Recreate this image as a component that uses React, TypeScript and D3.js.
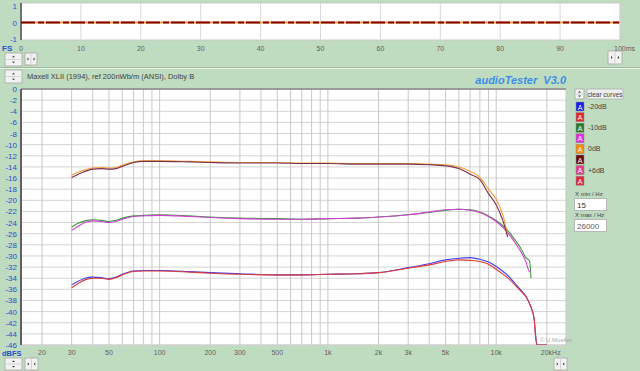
import React from 'react';
import * as d3 from 'd3';

// ---- data ----
const stripTimes = [0, 100];
const stripValues = [0, 0];
const stripTicks = [0, 10, 20, 30, 40, 50, 60, 70, 80, 90, 100];

const freqTop = [30, 33, 36, 40, 45, 50, 55, 60, 70, 80, 100, 150, 200, 300, 500, 700, 1000, 1500, 2000, 3000, 4000, 5000, 6000, 7000, 8000, 9000, 10000, 11000, 11700];
const maroonDb = [-15.9, -15.3, -14.8, -14.4, -14.3, -14.4, -14.3, -13.9, -13.2, -13.0, -13.0, -13.1, -13.2, -13.3, -13.3, -13.4, -13.4, -13.5, -13.5, -13.5, -13.6, -13.8, -14.3, -15.3, -16.3, -18.8, -20.8, -23.8, -26.6];
const orangeDb = [-15.5, -14.9, -14.5, -14.2, -14.1, -14.2, -14.1, -13.7, -13.1, -12.9, -12.9, -13.0, -13.1, -13.2, -13.2, -13.3, -13.3, -13.4, -13.4, -13.4, -13.5, -13.6, -14.0, -14.8, -15.9, -18.0, -19.8, -22.8, -26.3];

const freqMid = [30, 33, 36, 40, 45, 50, 55, 60, 70, 80, 100, 150, 200, 300, 500, 700, 1000, 1500, 2000, 3000, 4000, 5000, 6000, 7000, 8000, 9000, 10000, 11000, 12000, 13000, 14000, 15000, 15800, 16100];
const greenDb = [-24.8, -24.1, -23.7, -23.5, -23.6, -23.8, -23.6, -23.2, -22.8, -22.7, -22.6, -22.8, -23.0, -23.2, -23.3, -23.4, -23.3, -23.2, -23.0, -22.6, -22.2, -21.8, -21.6, -21.7, -22.1, -22.8, -23.6, -24.6, -25.8, -27.2, -28.6, -30.3, -30.9, -34.0];
const magentaDb = [-25.4, -24.6, -24.0, -23.7, -23.8, -24.0, -23.8, -23.4, -22.9, -22.8, -22.7, -22.9, -23.1, -23.3, -23.4, -23.4, -23.3, -23.2, -23.0, -22.6, -22.1, -21.7, -21.6, -21.8, -22.2, -22.9, -23.8, -24.9, -26.2, -27.7, -29.2, -31.0, -32.8, -32.8];

const freqLow = [30, 33, 36, 40, 45, 50, 55, 60, 70, 80, 100, 150, 200, 300, 500, 700, 1000, 1500, 2000, 3000, 4000, 5000, 6000, 7000, 8000, 9000, 10000, 11000, 12000, 13000, 14000, 15000, 16000, 16800, 17200, 17500, 20000];
const blueDb = [-35.2, -34.5, -34.0, -33.8, -33.9, -34.1, -33.8, -33.3, -32.7, -32.6, -32.6, -32.8, -33.0, -33.2, -33.4, -33.4, -33.3, -33.2, -33.0, -32.1, -31.4, -30.7, -30.4, -30.3, -30.6, -31.1, -31.9, -32.8, -33.8, -35.0, -36.1, -37.2, -39.0, -41.2, -44.5, -46, -46];
const redDb = [-35.7, -34.9, -34.3, -34.0, -34.0, -34.2, -33.9, -33.4, -32.8, -32.7, -32.7, -32.9, -33.1, -33.3, -33.4, -33.4, -33.3, -33.2, -33.0, -32.2, -31.6, -31.0, -30.7, -30.8, -31.0, -31.5, -32.4, -33.3, -34.2, -35.3, -36.3, -37.3, -39.0, -41.3, -45.0, -46, -46];

const dbTicks = d3.range(0, -47, -2);
const gridFreqs = [20, 30, 40, 50, 60, 70, 80, 90, 100, 200, 300, 400, 500, 600, 700, 800, 900, 1000, 2000, 3000, 4000, 5000, 6000, 7000, 8000, 9000, 10000, 20000];
const freqTickVals = [20, 30, 50, 100, 200, 300, 500, 1000, 2000, 3000, 5000, 10000, 20000];
const freqTickLabels = ['20', '30', '50', '100', '200', '300', '500', '1k', '2k', '3k', '5k', '10k', '20kHz'];

const legendColors = ['#1c1cf0', '#e02828', '#2a7a2a', '#e030e0', '#ff8a00', '#6a0a10', '#e0408a', '#e0283a'];
const legendLabels = ['-20dB', '', '-10dB', '', '0dB', '', '+6dB', ''];

const BG = '#c0dcc0';
const FONT = 'Liberation Sans, Arial, sans-serif';

const Spin = ({ x, y, w, h }: { x: number; y: number; w: number; h: number }) => (
  <g>
    <rect x={x} y={y} width={w} height={h} fill="#f2f2f2" stroke="#a8a8a8" strokeWidth={0.8} />
    <line x1={x + 1} x2={x + w - 1} y1={y + h / 2} y2={y + h / 2} stroke="#c0c0c0" strokeWidth={0.6} />
    <path d={`M${x + w / 2 - 1.5},${y + h / 4 + 1} l1.5,-1.5 l1.5,1.5 z`} fill="#333" />
    <path d={`M${x + w / 2 - 1.5},${y + (3 * h) / 4 - 1} l1.5,1.5 l1.5,-1.5 z`} fill="#333" />
  </g>
);

const Arrows = ({ x, y, w, h }: { x: number; y: number; w: number; h: number }) => (
  <g>
    <rect x={x} y={y} width={w} height={h} fill="#f2f2f2" stroke="#a8a8a8" strokeWidth={0.8} />
    <line x1={x + w / 2} x2={x + w / 2} y1={y + 1} y2={y + h - 1} stroke="#b8b8b8" strokeWidth={0.6} />
    <path d={`M${x + w / 4 + 1},${y + h / 2} l-1.5,-1.5 v3 z`} fill="#333" />
    <path d={`M${x + (3 * w) / 4 - 1},${y + h / 2} l1.5,-1.5 v3 z`} fill="#333" />
  </g>
);

export default function App() {
  const width = 640;
  const height = 371;

  // top time strip
  const sx = d3.scaleLinear().domain([0, 100]).range([21, 620]);
  const sy = d3.scaleLinear().domain([-1, 1]).range([39, 6]);
  const stripLine = d3.line<number>().x((d, i) => sx(stripTimes[i])).y((d) => sy(d));

  // main response plot
  const x = d3.scaleLog().domain([15, 26000]).range([21, 566]);
  const y = d3.scaleLinear().domain([-46, 0]).range([345, 89]);
  const mk = (fs: number[]) =>
    d3.line<number>().x((d, i) => x(fs[i])).y((d) => y(Math.max(-46, d))).curve(d3.curveMonotoneX);

  const series = [
    { f: freqLow, v: blueDb, c: '#4040e8' },
    { f: freqLow, v: redDb, c: '#e03a3a' },
    { f: freqMid, v: greenDb, c: '#3a9a3a' },
    { f: freqMid, v: magentaDb, c: '#d040d0' },
    { f: freqTop, v: orangeDb, c: '#f0a030' },
    { f: freqTop, v: maroonDb, c: '#7a3050' },
  ];

  return (
    <div style={{ position: 'fixed', left: 0, top: 0 }}>
      <svg width={width} height={height} style={{ display: 'block', fontFamily: FONT }}>
        <rect width={width} height={height} fill={BG} />

        {/* time strip */}
        <rect x={21} y={3} width={599} height={37} fill="#fff" stroke="#c8c8c8" />
        {stripTicks.map((t) => (
          <line key={t} x1={sx(t)} x2={sx(t)} y1={3} y2={40} stroke="#d8d8d8" />
        ))}
        <line x1={21} x2={21} y1={3} y2={40} stroke="#707070" strokeWidth={2} />
        <path d={stripLine(stripValues) || ''} stroke="#f0a040" strokeWidth={2} fill="none" />
        <path d={stripLine(stripValues) || ''} stroke="#800000" strokeWidth={2.2} fill="none" strokeDasharray="14,3,6,2" />
        {[1, 0, -1].map((v) => (
          <text key={v} x={17} y={sy(v) + 3} textAnchor="end" fontSize={8} fill="#2a4fd0">{v}</text>
        ))}
        {stripTicks.map((t) => (
          <text key={t} x={t === 100 ? 614 : sx(t)} y={51} textAnchor={t === 100 ? 'start' : 'middle'} fontSize={7} fill="#606060">
            {t === 100 ? '100ms' : t}
          </text>
        ))}
        <text x={2} y={51} fontSize={8} fontWeight="bold" fill="#2a4fd0">FS</text>
        <Spin x={5} y={53} w={17} h={13} />
        <Arrows x={25} y={53} w={12} h={12} />
        <Arrows x={608} y={51} w={14} h={13} />

        <line x1={0} x2={width} y1={67.5} y2={67.5} stroke="#a0b8a0" />
        <line x1={0} x2={width} y1={68.5} y2={68.5} stroke="#e8f4e8" />

        <Spin x={5} y={70} w={17} h={13} />
        <text x={27} y={79} fontSize={7.5} fill="#404040">Maxell XLII (1994), ref 200nWb/m (ANSI), Dolby B</text>
        <text x={566} y={84} textAnchor="end" fontSize={11} fontWeight="bold" fontStyle="italic" fill="#3a8ee8" xmlSpace="preserve">audioTester  V3.0</text>

        {/* main plot */}
        <rect x={21} y={89} width={545} height={256} fill="#fff" stroke="#c8c8c8" />
        {dbTicks.map((d) => (
          <line key={d} x1={21} x2={566} y1={y(d)} y2={y(d)} stroke="#d4d4d4" />
        ))}
        {gridFreqs.map((f) => (
          <line key={f} x1={x(f)} x2={x(f)} y1={89} y2={345} stroke="#c8c8c8" />
        ))}
        <line x1={21} x2={566} y1={89} y2={89} stroke="#606060" />
        <line x1={21} x2={21} y1={89} y2={345} stroke="#606060" strokeWidth={2} />
        {dbTicks.map((d) => (
          <text key={d} x={17} y={y(d) + 3} textAnchor="end" fontSize={8} fill="#2a4fd0">{d}</text>
        ))}
        {freqTickVals.map((f, i) => (
          <text key={f} x={x(f)} y={355} textAnchor={i === freqTickVals.length - 1 ? 'start' : 'middle'} dx={i === freqTickVals.length - 1 ? -6 : 0} fontSize={7} fill="#606060">
            {freqTickLabels[i]}
          </text>
        ))}
        <text x={2} y={356} fontSize={7.5} fontWeight="bold" fill="#2a4fd0">dBFS</text>

        <g clipPath="url(#clipMain)">
          {series.map((s, i) => (
            <path key={i} d={mk(s.f)(s.v) || ''} stroke={s.c} strokeWidth={1.1} fill="none" />
          ))}
        </g>
        <defs>
          <clipPath id="clipMain">
            <rect x={21} y={89} width={545} height={256} />
          </clipPath>
        </defs>
        <text x={540} y={342} fontSize={6} fill="#a8a8a8">© U.Mueller</text>

        <Spin x={5} y={358} w={17} h={12} />
        <Arrows x={25} y={358} w={13} h={12} />
        <Arrows x={554} y={358} w={13} h={12} />

        {/* right panel */}
        <Spin x={575} y={89} w={9} h={10} />
        <rect x={587} y={89} width={36} height={10} fill="#eeeeee" stroke="#a8a8a8" strokeWidth={0.7} />
        <text x={605} y={96.5} textAnchor="middle" fontSize={6.5} fill="#404040">clear curves</text>
        {legendColors.map((c, i) => (
          <g key={i}>
            <rect x={576} y={102 + i * 10.6} width={8} height={9} fill={c} stroke="#888" strokeWidth={0.5} />
            <text x={580} y={109.5 + i * 10.6} textAnchor="middle" fontSize={7} fill="#fff">A</text>
            {legendLabels[i] && (
              <text x={588} y={109 + i * 10.6} fontSize={7} fill="#404040">{legendLabels[i]}</text>
            )}
          </g>
        ))}
        <text x={575} y={196} fontSize={6} fill="#404040">X min / Hz</text>
        <rect x={574.5} y={198.5} width={32} height={12} fill="#fff" stroke="#b8b8b8" />
        <text x={577} y={208} fontSize={8} fill="#303030">15</text>
        <text x={575} y={217} fontSize={6} fill="#404040">X max / Hz</text>
        <rect x={574.5} y={219.5} width={32} height={12} fill="#fff" stroke="#b8b8b8" />
        <text x={577} y={229} fontSize={8} fill="#606060">26000</text>
      </svg>
    </div>
  );
}
